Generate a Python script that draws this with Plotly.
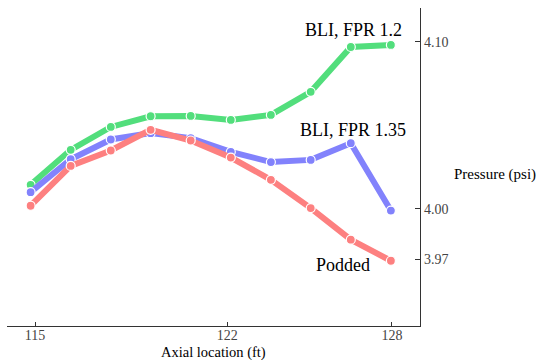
import plotly.graph_objects as go

# Data
axial_ft = [114.84, 116.30, 117.76, 119.21, 120.67, 122.13, 123.59, 125.04, 126.50, 127.96]
bli_fpr_12 = [4.0144, 4.0353, 4.0490, 4.0554, 4.0556, 4.0532, 4.0562, 4.0700, 4.0968, 4.0980]
bli_fpr_135 = [4.0100, 4.0297, 4.0415, 4.0453, 4.0423, 4.0341, 4.0280, 4.0293, 4.0393, 3.9990]
podded = [4.0019, 4.0257, 4.0349, 4.0473, 4.0409, 4.0307, 4.0174, 4.0005, 3.9816, 3.9690]

series_names = ["BLI, FPR 1.2", "BLI, FPR 1.35", "Podded"]
series_values = [bli_fpr_12, bli_fpr_135, podded]
series_colors = ["#52de7c", "#8282fc", "#fd8080"]

x_ticks = [115, 122, 128]
y_ticks = [3.97, 4.00, 4.10]
y_ticklabels = ["3.97", "4.00", "4.10"]

# label anchors (data coords)
label_pos = [(126.58, 4.107), (126.58, 4.0472), (126.2, 3.9667)]

FONT = "Liberation Serif"

fig = go.Figure()
for name, vals, col in zip(series_names, series_values, series_colors):
    fig.add_trace(go.Scatter(
        x=axial_ft, y=vals, mode="lines+markers", name=name,
        line=dict(color=col, width=6),
        marker=dict(color=col, size=9, line=dict(color="white", width=1.2)),
        showlegend=False,
    ))

for name, (lx, ly) in zip(series_names, label_pos):
    fig.add_annotation(x=lx, y=ly, xref="x", yref="y", text=name, showarrow=False,
                       font=dict(family=FONT, size=18, color="black"),
                       xanchor="center", yanchor="middle")

fig.add_annotation(x=1.0775, y=0.475, xref="paper", yref="paper", text="Pressure (psi)",
                   showarrow=False, xanchor="left", yanchor="middle",
                   font=dict(family=FONT, size=15, color="black"))

fig.add_annotation(x=0.5, y=-0.0849, xref="paper", yref="paper", text="Axial location (ft)",
                   showarrow=False, xanchor="center", yanchor="middle", borderpad=0,
                   font=dict(family=FONT, size=14.5, color="black"))

fig.update_layout(
    width=541, height=360,
    margin=dict(l=7, r=121, t=8, b=34, autoexpand=False),
    paper_bgcolor="white", plot_bgcolor="white",
    font=dict(family=FONT, color="black"),
    xaxis=dict(
        range=[113.98, 129.02], tickvals=x_ticks, ticktext=[str(t) for t in x_ticks],
        showgrid=False, zeroline=False, showline=True, linecolor="#333", linewidth=1.3,
        ticks="inside", ticklen=4, tickcolor="#333", tickwidth=1, automargin=False,
        ticklabelstandoff=-4,
        tickfont=dict(family=FONT, size=14, color="#444"),
    ),
    yaxis=dict(
        range=[3.930, 4.1201], side="right", tickvals=y_ticks, ticktext=y_ticklabels,
        showgrid=False, zeroline=False, showline=True, linecolor="#333", linewidth=1.3,
        ticks="inside", ticklen=5, tickcolor="#333", tickwidth=1, automargin=False,
        tickfont=dict(family=FONT, size=14, color="#444"),
    ),
)

fig.write_html("out.html")
